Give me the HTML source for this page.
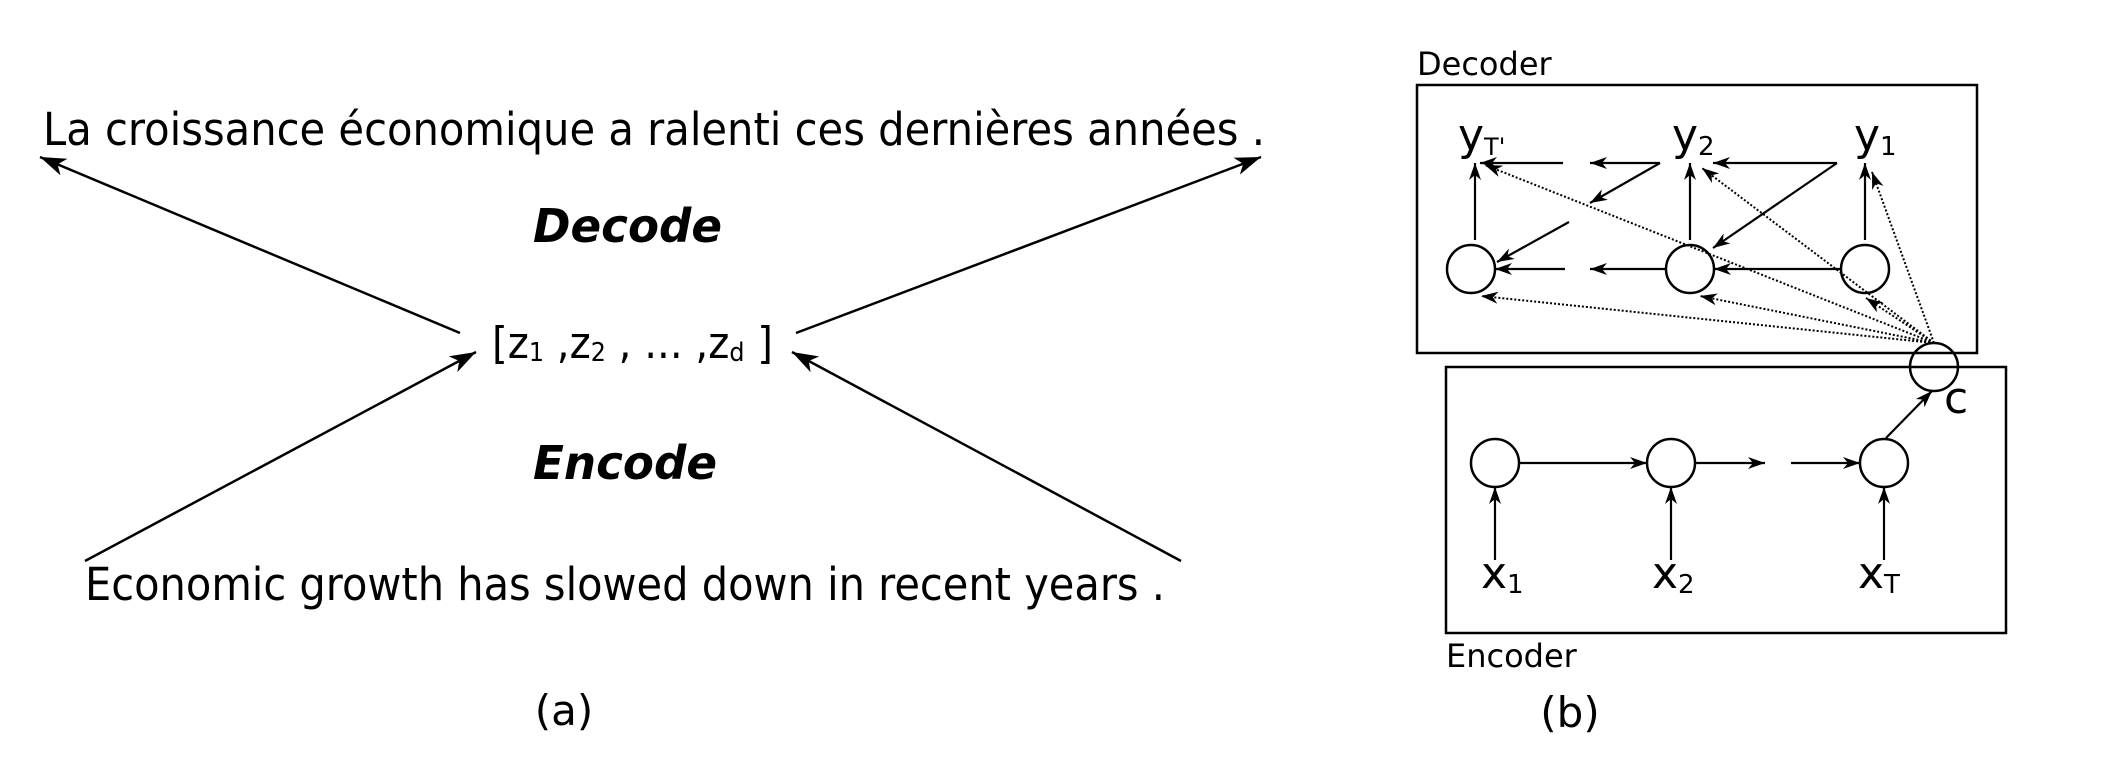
<!DOCTYPE html>
<html><head><meta charset="utf-8"><style>
html,body{margin:0;padding:0;background:#fff;}
svg{display:block;}
text{font-family:"DejaVu Sans","Liberation Sans",sans-serif;fill:#000;}
</style></head><body>
<svg width="2104" height="771" viewBox="0 0 2104 771" xmlns="http://www.w3.org/2000/svg">
<defs>
<marker id="a" markerWidth="28" markerHeight="18" refX="26" refY="9" orient="auto" markerUnits="userSpaceOnUse">
<path d="M0,0 L26,9 L0,18 L7,9 Z" fill="#000"/></marker>
<marker id="s" markerWidth="18" markerHeight="12" refX="17" refY="6" orient="auto" markerUnits="userSpaceOnUse">
<path d="M0,0 L17,6 L0,12 L5,6 Z" fill="#000"/></marker>
</defs>
<!-- (a) -->
<text x="43" y="145" font-size="45" textLength="1222" lengthAdjust="spacingAndGlyphs">La croissance économique a ralenti ces dernières années .</text>
<text x="533" y="242" font-size="46" font-weight="bold" font-style="italic" textLength="189" lengthAdjust="spacingAndGlyphs">Decode</text>
<text x="533" y="479" font-size="46" font-weight="bold" font-style="italic" textLength="184" lengthAdjust="spacingAndGlyphs">Encode</text>
<text x="492" y="358" font-size="44" textLength="281" lengthAdjust="spacingAndGlyphs">[z<tspan font-size="26" dy="3">1</tspan><tspan dy="-3"> ,z</tspan><tspan font-size="26" dy="3">2</tspan><tspan dy="-3"> , ... ,z</tspan><tspan font-size="26" dy="3">d</tspan><tspan dy="-3"> ]</tspan></text>
<text x="85" y="600" font-size="45" textLength="1080" lengthAdjust="spacingAndGlyphs">Economic growth has slowed down in recent years .</text>
<g stroke="#000" stroke-width="2.5" fill="none">
<line x1="460" y1="333" x2="40" y2="157" marker-end="url(#a)"/>
<line x1="796" y1="333" x2="1261" y2="157" marker-end="url(#a)"/>
<line x1="85" y1="561" x2="476" y2="352" marker-end="url(#a)"/>
<line x1="1181" y1="561" x2="792" y2="352" marker-end="url(#a)"/>
</g>
<text x="564" y="725" font-size="42" text-anchor="middle" font-family="Liberation Sans, sans-serif">(a)</text>

<!-- (b) -->
<text x="1417" y="75" font-size="32">Decoder</text>
<text x="1446" y="667" font-size="32">Encoder</text>
<g stroke="#000" stroke-width="2.5" fill="none">
<rect x="1417" y="85" width="560" height="268"/>
<rect x="1446" y="367" width="560" height="266"/>
<circle cx="1471" cy="269" r="24"/>
<circle cx="1690" cy="269" r="24"/>
<circle cx="1865" cy="269" r="24"/>
<circle cx="1934" cy="367" r="24"/>
<circle cx="1495" cy="463" r="24"/>
<circle cx="1671" cy="463" r="24"/>
<circle cx="1884" cy="463" r="24"/>
</g>
<g stroke="#000" stroke-width="2.2" fill="none">
<line x1="1475" y1="240" x2="1475" y2="163" marker-end="url(#s)"/>
<line x1="1690" y1="240" x2="1690" y2="163" marker-end="url(#s)"/>
<line x1="1865" y1="240" x2="1865" y2="163" marker-end="url(#s)"/>
<line x1="1837" y1="163" x2="1713" y2="163" marker-end="url(#s)"/>
<line x1="1660" y1="163" x2="1590" y2="163" marker-end="url(#s)"/>
<line x1="1563" y1="163" x2="1480" y2="163" marker-end="url(#s)"/>
<line x1="1837" y1="163" x2="1713" y2="248" marker-end="url(#s)"/>
<line x1="1660" y1="163" x2="1590" y2="203" marker-end="url(#s)"/>
<line x1="1569" y1="222" x2="1497" y2="262" marker-end="url(#s)"/>
<line x1="1841" y1="269" x2="1714" y2="269" marker-end="url(#s)"/>
<line x1="1666" y1="269" x2="1590" y2="269" marker-end="url(#s)"/>
<line x1="1565" y1="269" x2="1495" y2="269" marker-end="url(#s)"/>
<line x1="1519" y1="463" x2="1647" y2="463" marker-end="url(#s)"/>
<line x1="1695" y1="463" x2="1765" y2="463" marker-end="url(#s)"/>
<line x1="1791" y1="463" x2="1860" y2="463" marker-end="url(#s)"/>
<line x1="1495" y1="560" x2="1495" y2="487" marker-end="url(#s)"/>
<line x1="1671" y1="560" x2="1671" y2="487" marker-end="url(#s)"/>
<line x1="1884" y1="560" x2="1884" y2="487" marker-end="url(#s)"/>
<line x1="1886" y1="438" x2="1932" y2="391" marker-end="url(#s)"/>
</g>
<g stroke="#000" stroke-width="2" stroke-dasharray="2,2" fill="none">
<line x1="1934" y1="343" x2="1481" y2="296" marker-end="url(#s)"/>
<line x1="1934" y1="343" x2="1700" y2="296" marker-end="url(#s)"/>
<line x1="1934" y1="343" x2="1866" y2="298" marker-end="url(#s)"/>
<line x1="1934" y1="343" x2="1485" y2="165" marker-end="url(#s)"/>
<line x1="1934" y1="343" x2="1702" y2="168" marker-end="url(#s)"/>
<line x1="1934" y1="343" x2="1872" y2="172" marker-end="url(#s)"/>
</g>
<text x="1458" y="150" font-size="44">y<tspan font-size="24" dy="5">T'</tspan></text>
<text x="1672" y="150" font-size="44">y<tspan font-size="26" dy="5">2</tspan></text>
<text x="1854" y="150" font-size="44">y<tspan font-size="26" dy="5">1</tspan></text>
<text x="1481" y="588" font-size="44">x<tspan font-size="26" dy="5">1</tspan></text>
<text x="1652" y="588" font-size="44">x<tspan font-size="26" dy="5">2</tspan></text>
<text x="1858" y="588" font-size="44">x<tspan font-size="26" dy="5">T</tspan></text>
<text x="1944" y="413" font-size="44">c</text>
<text x="1570" y="727" font-size="42" text-anchor="middle" font-family="Liberation Sans, sans-serif">(b)</text>
</svg>
</body></html>
